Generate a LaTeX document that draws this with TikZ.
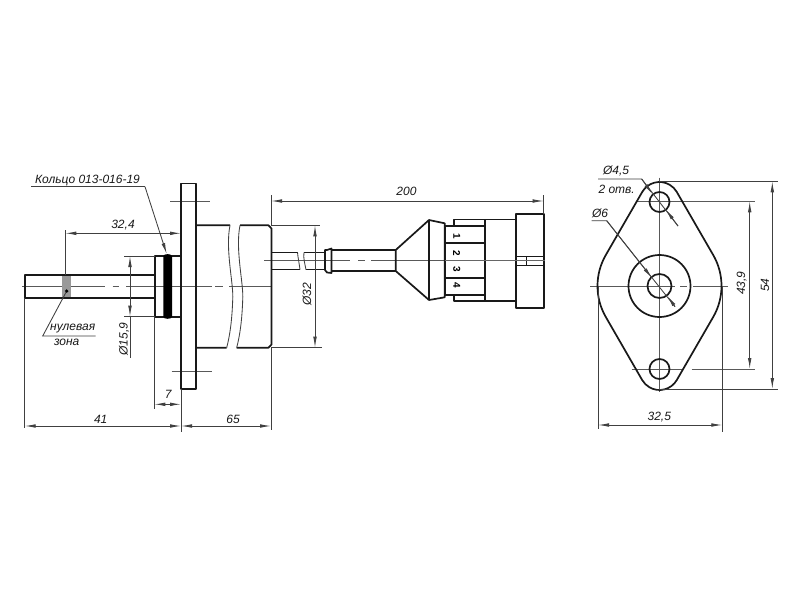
\documentclass[tikz,border=0pt]{standalone}
\usepackage{fontspec}
\setmainfont{Liberation Sans}
\usetikzlibrary{arrows.meta}
\tikzset{
  x=1pt,y=-1pt,
  main/.style={line width=1.7pt,line join=round,draw=black!90},
  fine/.style={line width=0.85pt,draw=black!75},
  axis/.style={line width=0.9pt,draw=black!65},
  dimline/.style={fine,{Latex[length=11pt,width=3.6pt]}-{Latex[length=11pt,width=3.6pt]}},
  arrowend/.style={fine,-{Latex[length=11pt,width=3.6pt]}},
  lbl/.style={font=\itshape\fontsize{12}{13}\selectfont,inner sep=0pt,text=black!90},
  num/.style={font=\bfseries\fontsize{10}{11}\selectfont,inner sep=0pt,rotate=-90},
}
\begin{document}
\begin{tikzpicture}
\useasboundingbox (0,0) rectangle (800,600);
\fill[white] (0,0) rectangle (800,600);
% axes, left view
\draw[axis] (22,286.7) -- (105,286.7) (112.7,286.7) -- (119.3,286.7) (126,286.7) -- (211.7,286.7)
  (215,286.7) -- (222.7,286.7) (229,286.7) -- (271,286.7);
\draw[axis] (170,201) -- (210,201) (171.7,371.7) -- (211.7,371.7);
\draw[axis] (264,260.7) -- (350,260.7) (358,260.7) -- (365,260.7) (371,260.7) -- (545,260.7);
% grey zone
\fill[black!40] (61.7,275) rectangle (71,297.7);
% shaft, collar, flange
\draw[main] (154.7,275) -- (24.7,275) -- (24.7,297.7) -- (154.7,297.7);
\draw[main] (181,256) -- (154.7,256) -- (154.7,316.7) -- (181,316.7);
\fill[black] (163.3,256) .. controls (163.6,253.5) and (171.7,253.5) .. (172,256) -- (172,316.7)
  .. controls (171.7,319.5) and (163.6,319.5) .. (163.3,316.7) -- cycle;
\draw[main] (181,183.5) rectangle (196.3,389.3);
% body
\draw[main] (196.3,225.3) -- (230,225.3) (240,225.3) -- (268.5,225.3) -- (271.5,228.5) -- (271.5,344.5) -- (268.5,347.7) -- (236.7,347.7) (226.7,347.7) -- (196.3,347.7);
\draw[fine] (230,225.3) .. controls (225,250) and (234,285) .. (232.7,300) .. controls (232,320) and (230,335) .. (226.7,347.7);
\draw[fine] (240,225.3) .. controls (235,250) and (244,285) .. (242.7,300) .. controls (242,320) and (240,335) .. (236.7,347.7);
% cable
\draw[main,line width=1.3pt] (271.5,252.3) -- (297.5,252.3) (271.5,269.7) -- (300,269.7) (304,252.3) -- (325,252.3) (306,269.7) -- (325,269.7);
\draw[fine] (297.5,252.3) .. controls (298,258) and (299,262) .. (300,269.7)
  (304,252.3) .. controls (303,258) and (305,264) .. (306,269.7);
\draw[main] (325,250) -- (325,270) -- (327,272.5) -- (331.5,273) -- (331.5,248.5) -- (327,250) -- cycle;
\draw[main,line width=1.3pt] (331.5,250) -- (395.7,250) (331.5,271) -- (395.7,271);
% connector
\draw[main] (395.7,250) -- (395.7,271) -- (429,300) -- (444.7,297.3) -- (444.7,223.3) -- (429,220) -- cycle;
\draw[main] (429,220) -- (429,300);
\draw[main] (444.7,225.7) rectangle (485,295.3);
\draw[main] (444.7,243.3) -- (485,243.3) (444.7,278) -- (485,278);
\draw[main] (454,225.7) -- (454,219.5) -- (515.7,219.5) (454,295.3) -- (454,301) -- (515.7,301);
\draw[main] (485,219.5) -- (485,301);
\draw[main] (515.7,213.7) rectangle (544,307.7);
\draw[main,line width=1pt] (515.7,256) -- (544,256) (515.7,265.3) -- (544,265.3) (526,256) -- (526,265.3);
\draw[line width=1.1pt,draw=black!60] (444.7,260.7) -- (545,260.7);
\node[num] (n1) at (456.7,236) {1};
\node[num] (n2) at (456.7,253) {2};
\node[num] (n3) at (456.7,269) {3};
\node[num] (n4) at (456.7,285.7) {4};
% left dimensions
\coordinate (d324a) at (65.3,233.3); \coordinate (d324b) at (181,233.3);
\draw[fine] (65.3,230) -- (65.3,275);
\draw[dimline] (d324a) -- (d324b);
\node[lbl] (t324) at (123,225) {32,4};
\draw[fine] (124.3,256) -- (154.7,256) (124.3,316.7) -- (154.7,316.7);
\coordinate (d159a) at (130,256); \coordinate (d159b) at (130,316.7);
\draw[dimline] (d159a) -- (d159b);
\draw[fine] (130,316.7) -- (130,358.3);
\node[lbl,rotate=90] (t159) at (124,339) {Ø15,9};
\coordinate (d41a) at (24.7,426); \coordinate (d41b) at (181,426); \coordinate (d65b) at (271,426);
\draw[fine] (24.7,297.7) -- (24.7,428) (181,389) -- (181,431.7) (271,347.7) -- (271,430) (154.3,316.7) -- (154.3,409);
\draw[dimline] (d41a) -- (d41b);
\draw[dimline] (d41b) -- (d65b);
\node[lbl] (t41) at (100.7,419) {41};
\node[lbl] (t65) at (233,419) {65};
\coordinate (d7a) at (154.3,404.3); \coordinate (d7b) at (181,404.3);
\draw[dimline] (d7a) -- (d7b);
\node[lbl] (t7) at (168.3,394.5) {7};
\coordinate (d200a) at (271,201); \coordinate (d200b) at (543.7,201);
\draw[fine] (271,195) -- (271,225) (543.7,195) -- (543.7,213.7);
\draw[dimline] (d200a) -- (d200b);
\node[lbl] (t200) at (406.5,191) {200};
\coordinate (d32a) at (315,225.3); \coordinate (d32b) at (315,347.7);
\draw[fine] (271,225.3) -- (319.5,225.3) (271,347.7) -- (321.5,347.7);
\draw[dimline] (d32a) -- (d32b);
\node[lbl,rotate=90] (t32) at (307,294) {Ø32};
% leaders left
\node[lbl] (tring) at (87.5,180.5) {Кольцо 013-016-19};
\coordinate (ringA) at (31,186.7); \coordinate (ringB) at (145,186.7); \coordinate (ringC) at (166.7,254);
\draw[fine] (ringA) -- (ringB);
\draw[arrowend] (ringB) -- (ringC);
\coordinate (zA) at (95.7,336); \coordinate (zB) at (42.7,336); \coordinate (zC) at (66.7,291);
\draw[fine] (zA) -- (zB) -- (zC);
\fill[black] (zC) circle (1.8);
\node[lbl] (tz1) at (72.7,329) {нулевая};
\node[lbl] (tz2) at (66.7,342.5) {зона};
% right view axes
\draw[axis] (659,177.7) -- (659,392);
\draw[axis] (590,286.3) -- (675,286.3) (680,286.3) -- (687,286.3) (693,286.3) -- (728,286.3);
\draw[axis] (636.7,201.3) -- (755,201.3);
\draw[axis] (631.7,369) -- (683,369) (691.7,369) -- (755,369);
% right view outline
\begin{scope}[shift={(659.5,286)},y=1pt]
\draw[main] (17.3,94) -- (53.7,31) arc[start angle=30,end angle=-30,radius=62]
  -- (17.3,-94) arc[start angle=-30,end angle=-150,radius=20]
  -- (-53.7,-31) arc[start angle=210,end angle=150,radius=62]
  -- (-17.3,94) arc[start angle=150,end angle=30,radius=20] -- cycle;
\draw[main] (0,84) circle (10) (0,-83) circle (10) (0,0) circle (31) (0,0) circle (12);
\end{scope}
% right dimensions
\draw[fine] (659,181.3) -- (778,181.3) (659,389) -- (778,389);
\coordinate (d54a) at (772.3,181.3); \coordinate (d54b) at (772.3,389);
\draw[dimline] (d54a) -- (d54b);
\node[lbl,rotate=90] (t54) at (765,285) {54};
\coordinate (d439a) at (749.7,201.3); \coordinate (d439b) at (749.7,369);
\draw[dimline] (d439a) -- (d439b);
\node[lbl,rotate=90] (t439) at (741.7,283) {43,9};
\coordinate (d325a) at (598,425); \coordinate (d325b) at (722.3,425);
\draw[fine] (598,286) -- (598,429) (722.3,286) -- (722.3,432);
\draw[dimline] (d325a) -- (d325b);
\node[lbl] (t325) at (659.3,417) {32,5};
% diameter leaders
\node[lbl] (t45) at (616,171) {Ø4,5};
\node[lbl] (t2o) at (616.7,189) {2 отв.};
\coordinate (h1) at (598,179); \coordinate (h2) at (641.7,179); \coordinate (h3) at (678,226);
\coordinate (h4) at (652.5,194.2); \coordinate (h5) at (665.7,209.5);
\draw[fine] (h1) -- (h2) -- (h3);
\draw[arrowend] (h2) -- (h4);
\draw[arrowend] (h3) -- (h5);
\node[lbl] (t6) at (600,213) {Ø6};
\coordinate (c1) at (591.7,220.7); \coordinate (c2) at (606.7,220.7); \coordinate (c3) at (675,306.7);
\coordinate (c4) at (652,278); \coordinate (c5) at (667.5,296);
\draw[fine] (c1) -- (c2) -- (c3);
\draw[arrowend] (c2) -- (c4);
\draw[arrowend] (c3) -- (c5);
\end{tikzpicture}
\end{document}
